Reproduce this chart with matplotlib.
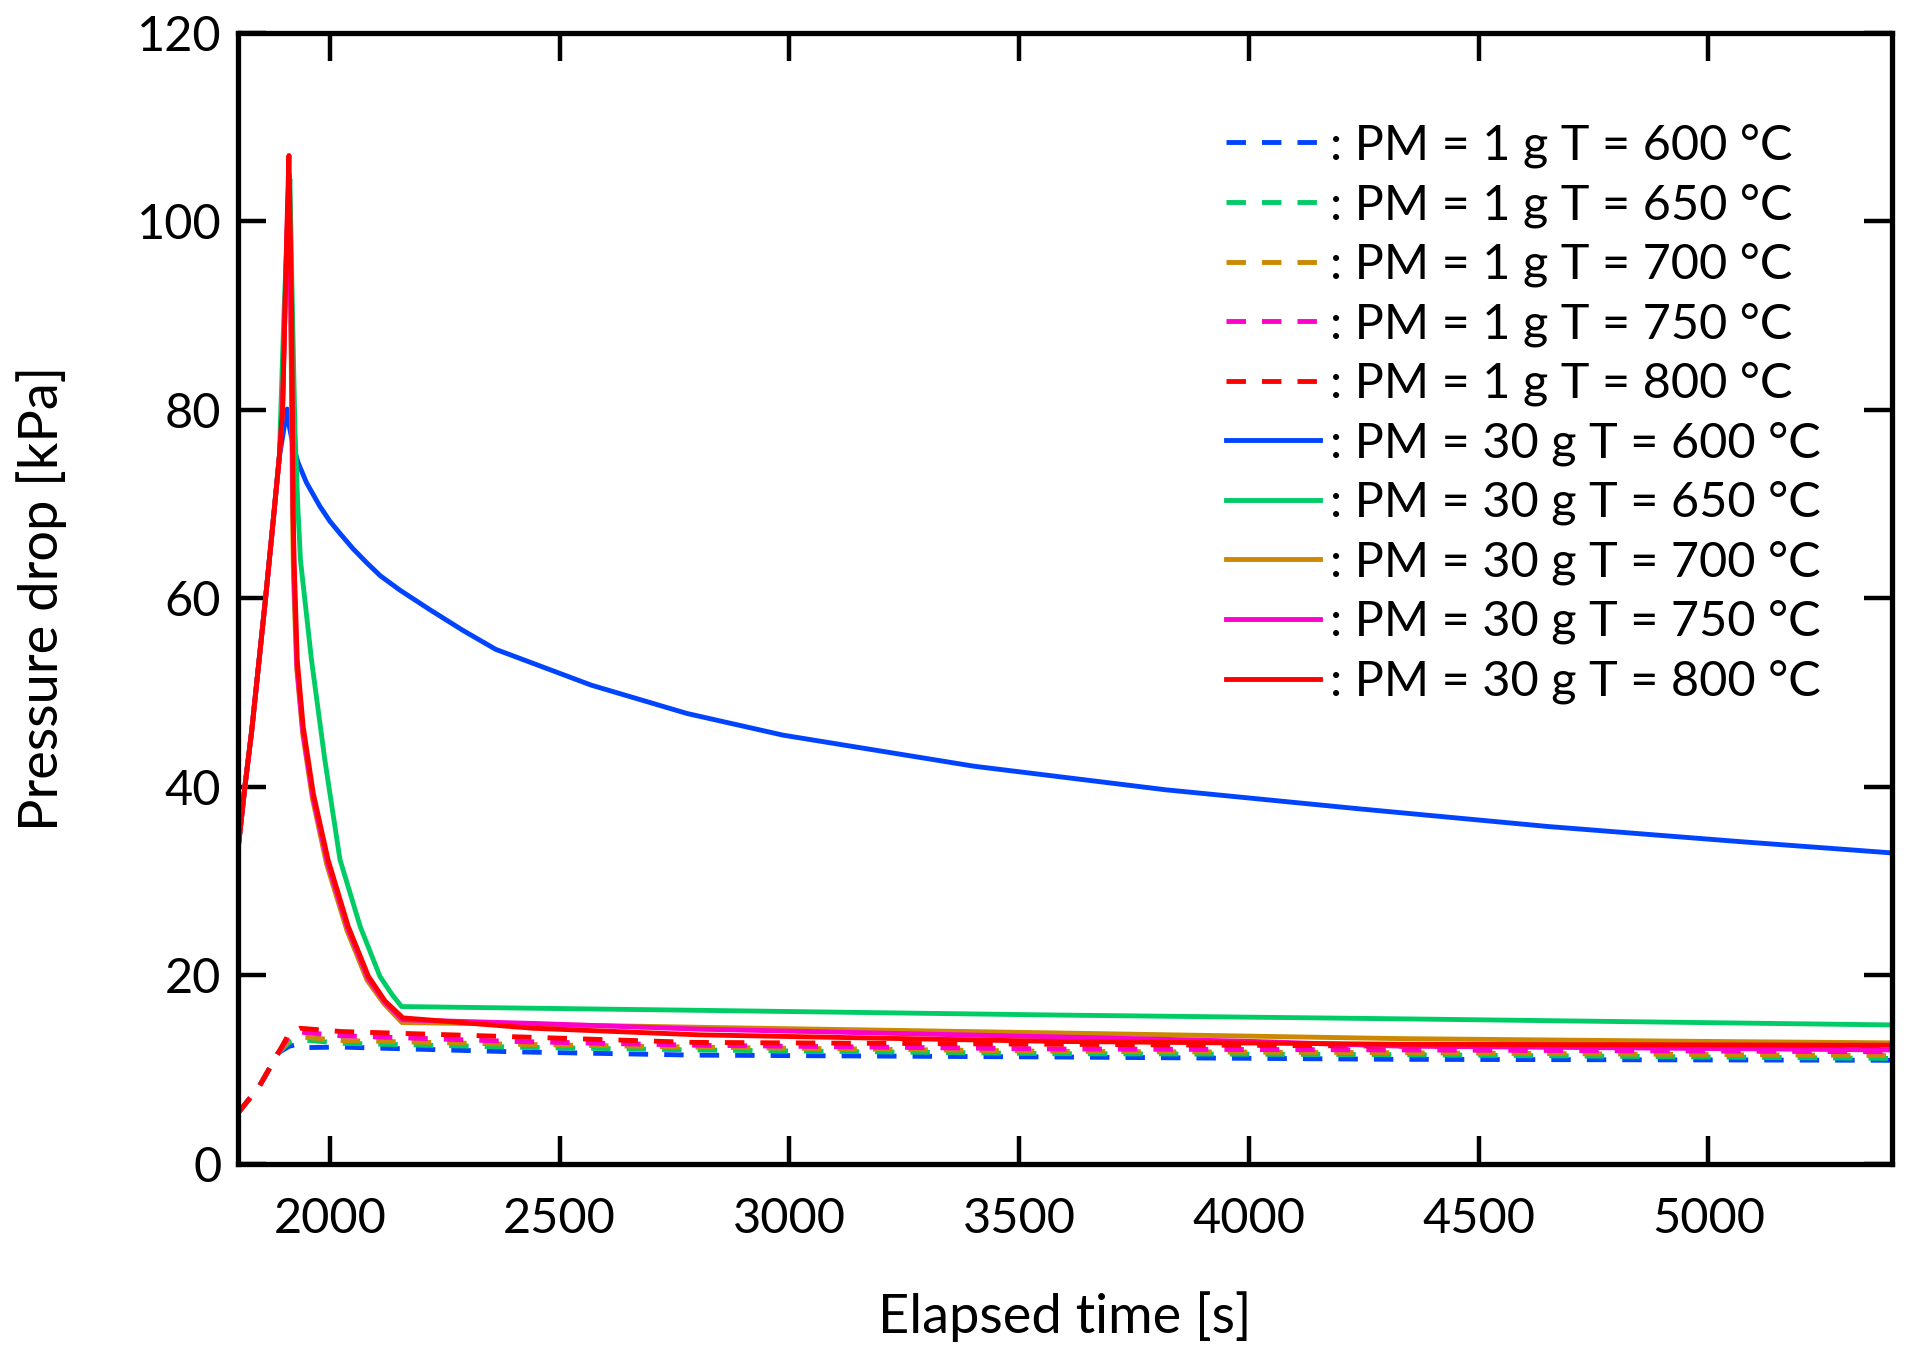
import matplotlib
matplotlib.use('Agg')
import matplotlib.pyplot as plt

plt.rcParams['font.family'] = ['Lato', 'DejaVu Sans']

# shared start of the heating phase (s, kPa)
rise_t = [1800, 1815, 1830, 1845, 1860, 1875, 1890]
rise_p = [33.3, 40.0, 46.0, 53.0, 60.0, 67.4, 75.0]
rise1_t = [1800, 1846, 1888]
rise1_p = [5.4, 8.2, 11.8]

# PM = 1 g (dashed)
t_1g_600 = rise1_t + [1912, 1932, 1952, 2025, 2400, 2790, 3580, 4329, 5400]
p_1g_600 = rise1_p + [12.5, 12.7, 12.35, 12.4, 11.9, 11.55, 11.35, 11.1, 11.0]
t_1g_650 = rise1_t + [1912, 1932, 2025, 2400, 2790, 3580, 4329, 5400]
p_1g_650 = rise1_p + [12.9, 13.2, 12.8, 12.4, 12.1, 11.7, 11.6, 11.2]
t_1g_700 = rise1_t + [1912, 1932, 2025, 2400, 2790, 3580, 4329, 5400]
p_1g_700 = rise1_p + [13.2, 13.5, 13.1, 12.7, 12.4, 11.95, 11.8, 11.5]
t_1g_750 = rise1_t + [1912, 1933, 2025, 2400, 2790, 3580, 4329, 5400]
p_1g_750 = rise1_p + [13.6, 14.0, 13.6, 13.0, 12.6, 12.2, 12.1, 11.9]
t_1g_800 = rise1_t + [1912, 1935, 2025, 2400, 2790, 3580, 4329, 5400]
p_1g_800 = rise1_p + [13.9, 14.4, 14.05, 13.5, 12.9, 12.7, 12.5, 12.3]

# PM = 30 g (solid)
t_30g_600 = rise_t + [1907, 1912, 1920, 1931, 1949, 1978, 2000, 2022, 2050, 2080, 2110, 2152,
                      2196, 2218, 2290, 2361, 2569, 2777, 2986, 3402, 3819, 4236, 4652, 5069, 5400]
p_30g_600 = rise_p + [80.1, 78.2, 76.2, 74.4, 72.3, 69.8, 68.2, 66.9, 65.3, 63.8, 62.4, 60.9,
                      59.5, 58.8, 56.6, 54.6, 50.8, 47.8, 45.5, 42.2, 39.7, 37.7, 35.8, 34.2, 33.0]
t_30g_650 = rise_t + [1900, 1908, 1913, 1918, 1924, 1930, 1936, 1960, 1989, 2022, 2066, 2109,
                      2135, 2156, 2805, 3582, 4329, 5400]
p_30g_650 = rise_p + [90.0, 100.0, 104.5, 92.0, 78.0, 70.0, 64.1, 53.5, 42.9, 32.3, 25.2, 19.9,
                      18.0, 16.7, 16.3, 15.8, 15.4, 14.75]
t_30g_700 = rise_t + [1897, 1903, 1908, 1911, 1916, 1919, 1921, 1928, 1941, 1962, 1993, 2037,
                      2081, 2118, 2157, 2450, 2805, 3582, 4329, 5000, 5400]
p_30g_700 = rise_p + [80.0, 92.0, 100.0, 104.0, 85.0, 68.0, 62.0, 52.5, 45.6, 38.8, 31.8, 24.8,
                      19.5, 17.0, 15.0, 14.8, 14.5, 13.9, 13.3, 13.0, 12.85]
t_30g_750 = rise_t + [1897, 1903, 1908, 1911, 1916, 1920, 1922, 1928, 1941, 1963, 1995, 2039,
                      2083, 2119, 2158, 2450, 2805, 3660, 4009, 4329, 5400]
p_30g_750 = rise_p + [80.0, 92.0, 101.0, 105.0, 87.0, 69.0, 63.0, 53.0, 46.0, 39.0, 32.0, 25.0,
                      19.7, 17.2, 15.3, 14.9, 14.3, 13.4, 13.0, 12.5, 12.1]
t_30g_800 = rise_t + [1897, 1903, 1908, 1911, 1917, 1920, 1922, 1929, 1942, 1964, 1996, 2040,
                      2084, 2120, 2159, 2442, 2804, 3582, 4329, 5400]
p_30g_800 = rise_p + [80.0, 92.0, 102.0, 107.0, 90.0, 70.0, 64.1, 53.5, 46.4, 39.3, 32.3, 25.2,
                      19.9, 17.3, 15.5, 14.4, 13.7, 13.0, 12.7, 12.6]

temps = [600, 650, 700, 750, 800]
colors = ['#0044ff', '#00cc66', '#cc8800', '#ff00cc', '#ff0000']

dashed = [(t_1g_600, p_1g_600), (t_1g_650, p_1g_650), (t_1g_700, p_1g_700),
          (t_1g_750, p_1g_750), (t_1g_800, p_1g_800)]
solid = [(t_30g_600, p_30g_600), (t_30g_650, p_30g_650), (t_30g_700, p_30g_700),
         (t_30g_750, p_30g_750), (t_30g_800, p_30g_800)]

fig = plt.figure(figsize=(19.19, 13.62), dpi=100)
ax = fig.add_axes([0.124, 0.1454, 0.862, 0.8304])

for (t, p), temp, c in zip(dashed, temps, colors):
    ax.plot(t, p, color=c, lw=3.5, dashes=(4, 3.3),
            label=f': PM = 1 g T = {temp} °C')
for (t, p), temp, c in zip(solid, temps, colors):
    ax.plot(t, p, color=c, lw=3.5, label=f': PM = 30 g T = {temp} °C')

ax.set_xlim(1800, 5400)
ax.set_ylim(0, 120)
ax.set_xticks([2000, 2500, 3000, 3500, 4000, 4500, 5000])
ax.set_yticks([0, 20, 40, 60, 80, 100, 120])

for s in ax.spines.values():
    s.set_linewidth(3.8)
ax.tick_params(direction='in', length=20, width=3.2, labelsize=35,
               top=True, right=True)
ax.tick_params(axis='x', pad=24)
ax.tick_params(axis='y', pad=12)

ax.set_xlabel('Elapsed time [s]', fontsize=39, labelpad=36)
ax.set_ylabel('Pressure drop [kPa]', fontsize=39, labelpad=50)

ax.legend(loc='upper left', bbox_to_anchor=(0.597, 0.92), frameon=False,
          fontsize=35, handlelength=1.95, handletextpad=0.2, labelspacing=0.31,
          borderpad=0, borderaxespad=0)

fig.savefig('out.png', dpi=100)
